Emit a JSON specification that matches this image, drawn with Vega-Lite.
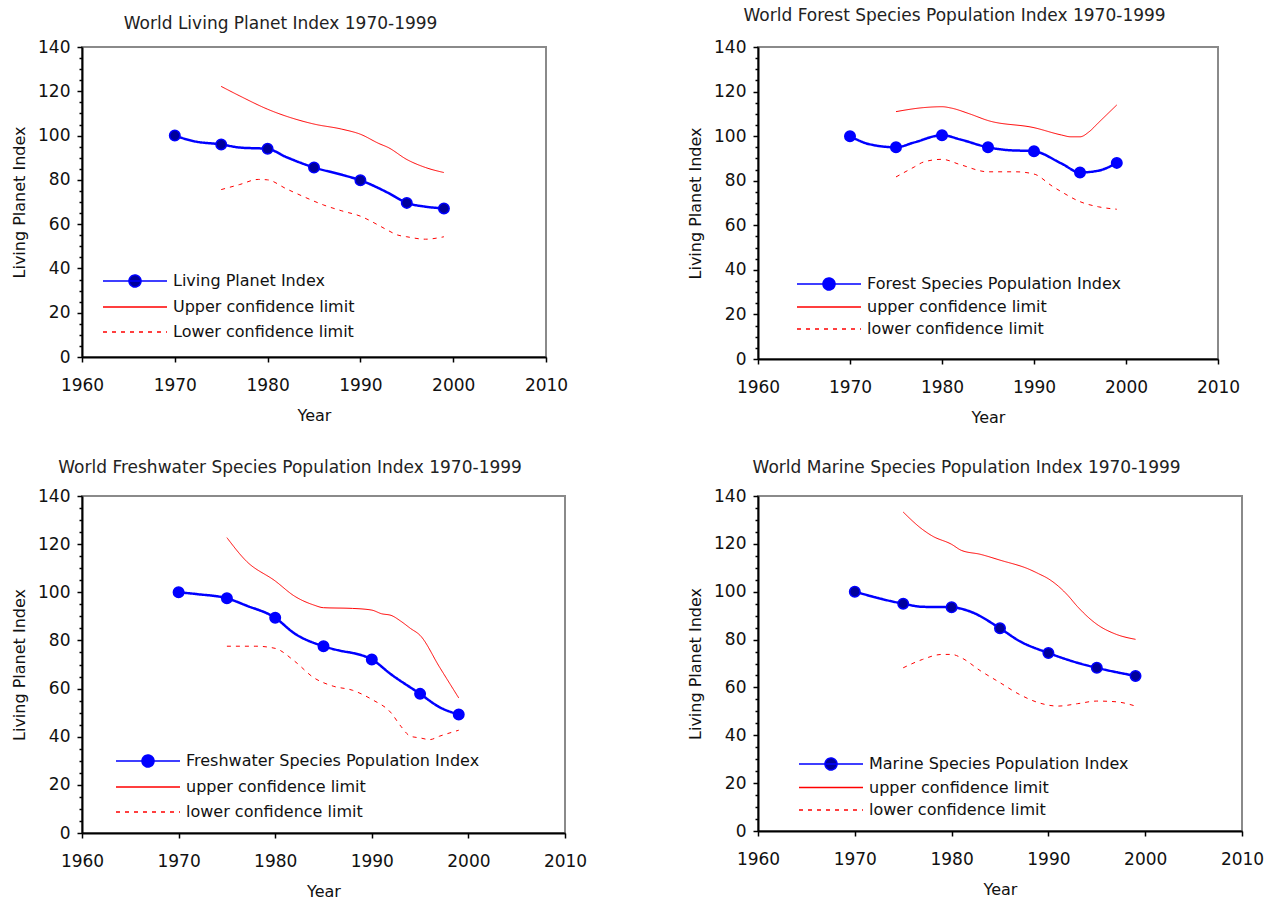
{
"$schema": "https://vega.github.io/schema/vega-lite/v6.json",
"background": "white",
"padding": {"left": 10, "top": 6, "right": 5, "bottom": 2},
"data": {"values": [
{"panel":"living","series":"Living Planet Index","year":1970,"value":100,"marker":true},
{"panel":"living","series":"Living Planet Index","year":1972,"value":97.5},
{"panel":"living","series":"Living Planet Index","year":1975,"value":96,"marker":true},
{"panel":"living","series":"Living Planet Index","year":1977,"value":94.6},
{"panel":"living","series":"Living Planet Index","year":1980,"value":94,"marker":true},
{"panel":"living","series":"Living Planet Index","year":1982,"value":90.3},
{"panel":"living","series":"Living Planet Index","year":1985,"value":85.6,"marker":true},
{"panel":"living","series":"Living Planet Index","year":1988,"value":82.3},
{"panel":"living","series":"Living Planet Index","year":1990,"value":79.8,"marker":true},
{"panel":"living","series":"Living Planet Index","year":1993,"value":74.1},
{"panel":"living","series":"Living Planet Index","year":1995,"value":69.6,"marker":true},
{"panel":"living","series":"Living Planet Index","year":1997,"value":67.9},
{"panel":"living","series":"Living Planet Index","year":1999,"value":67.1,"marker":true},
{"panel":"living","series":"Upper confidence limit","year":1975,"value":122.2},
{"panel":"living","series":"Upper confidence limit","year":1977,"value":117.9},
{"panel":"living","series":"Upper confidence limit","year":1980,"value":111.9},
{"panel":"living","series":"Upper confidence limit","year":1985,"value":105.2},
{"panel":"living","series":"Upper confidence limit","year":1988,"value":102.9},
{"panel":"living","series":"Upper confidence limit","year":1990,"value":100.6},
{"panel":"living","series":"Upper confidence limit","year":1992,"value":96.4},
{"panel":"living","series":"Upper confidence limit","year":1993,"value":94.6},
{"panel":"living","series":"Upper confidence limit","year":1995,"value":89.2},
{"panel":"living","series":"Upper confidence limit","year":1997,"value":85.6},
{"panel":"living","series":"Upper confidence limit","year":1999,"value":83.3},
{"panel":"living","series":"Lower confidence limit","year":1975,"value":75.6},
{"panel":"living","series":"Lower confidence limit","year":1977,"value":77.9},
{"panel":"living","series":"Lower confidence limit","year":1979,"value":80.2},
{"panel":"living","series":"Lower confidence limit","year":1980,"value":80},
{"panel":"living","series":"Lower confidence limit","year":1982,"value":76},
{"panel":"living","series":"Lower confidence limit","year":1984,"value":72.2},
{"panel":"living","series":"Lower confidence limit","year":1986,"value":68.7},
{"panel":"living","series":"Lower confidence limit","year":1988,"value":66},
{"panel":"living","series":"Lower confidence limit","year":1990,"value":63.6},
{"panel":"living","series":"Lower confidence limit","year":1992,"value":59.4},
{"panel":"living","series":"Lower confidence limit","year":1993,"value":57.1},
{"panel":"living","series":"Lower confidence limit","year":1994,"value":55.1},
{"panel":"living","series":"Lower confidence limit","year":1995,"value":54.3},
{"panel":"living","series":"Lower confidence limit","year":1997,"value":53.2},
{"panel":"living","series":"Lower confidence limit","year":1999,"value":54.3},
{"panel":"forest","series":"Forest Species Population Index","year":1970,"value":100,"marker":true},
{"panel":"forest","series":"Forest Species Population Index","year":1972,"value":96.5},
{"panel":"forest","series":"Forest Species Population Index","year":1975,"value":95,"marker":true},
{"panel":"forest","series":"Forest Species Population Index","year":1977,"value":97.2},
{"panel":"forest","series":"Forest Species Population Index","year":1980,"value":100.4,"marker":true},
{"panel":"forest","series":"Forest Species Population Index","year":1982,"value":98.5},
{"panel":"forest","series":"Forest Species Population Index","year":1985,"value":95,"marker":true},
{"panel":"forest","series":"Forest Species Population Index","year":1987,"value":93.8},
{"panel":"forest","series":"Forest Species Population Index","year":1990,"value":93.2,"marker":true},
{"panel":"forest","series":"Forest Species Population Index","year":1993,"value":87.7},
{"panel":"forest","series":"Forest Species Population Index","year":1995,"value":83.7,"marker":true},
{"panel":"forest","series":"Forest Species Population Index","year":1997,"value":84.5},
{"panel":"forest","series":"Forest Species Population Index","year":1999,"value":88,"marker":true},
{"panel":"forest","series":"upper confidence limit","year":1975,"value":111},
{"panel":"forest","series":"upper confidence limit","year":1978,"value":112.8},
{"panel":"forest","series":"upper confidence limit","year":1980,"value":113.2},
{"panel":"forest","series":"upper confidence limit","year":1981,"value":112.6},
{"panel":"forest","series":"upper confidence limit","year":1983,"value":110},
{"panel":"forest","series":"upper confidence limit","year":1985,"value":107},
{"panel":"forest","series":"upper confidence limit","year":1990,"value":103.8},
{"panel":"forest","series":"upper confidence limit","year":1993,"value":100.5},
{"panel":"forest","series":"upper confidence limit","year":1994,"value":99.7},
{"panel":"forest","series":"upper confidence limit","year":1995,"value":99.7},
{"panel":"forest","series":"upper confidence limit","year":1996,"value":102},
{"panel":"forest","series":"upper confidence limit","year":1997,"value":106},
{"panel":"forest","series":"upper confidence limit","year":1999,"value":114},
{"panel":"forest","series":"lower confidence limit","year":1975,"value":81.7},
{"panel":"forest","series":"lower confidence limit","year":1977,"value":86.2},
{"panel":"forest","series":"lower confidence limit","year":1978,"value":88.4},
{"panel":"forest","series":"lower confidence limit","year":1980,"value":89.6},
{"panel":"forest","series":"lower confidence limit","year":1982,"value":87.2},
{"panel":"forest","series":"lower confidence limit","year":1985,"value":84},
{"panel":"forest","series":"lower confidence limit","year":1988,"value":84},
{"panel":"forest","series":"lower confidence limit","year":1990,"value":83},
{"panel":"forest","series":"lower confidence limit","year":1992,"value":77.5},
{"panel":"forest","series":"lower confidence limit","year":1993,"value":75},
{"panel":"forest","series":"lower confidence limit","year":1995,"value":70.6},
{"panel":"forest","series":"lower confidence limit","year":1997,"value":68.3},
{"panel":"forest","series":"lower confidence limit","year":1999,"value":67.2},
{"panel":"fresh","series":"Freshwater Species Population Index","year":1970,"value":100,"marker":true},
{"panel":"fresh","series":"Freshwater Species Population Index","year":1972,"value":99.2},
{"panel":"fresh","series":"Freshwater Species Population Index","year":1975,"value":97.5,"marker":true},
{"panel":"fresh","series":"Freshwater Species Population Index","year":1977,"value":94.5},
{"panel":"fresh","series":"Freshwater Species Population Index","year":1980,"value":89.4,"marker":true},
{"panel":"fresh","series":"Freshwater Species Population Index","year":1982,"value":82.9},
{"panel":"fresh","series":"Freshwater Species Population Index","year":1985,"value":77.6,"marker":true},
{"panel":"fresh","series":"Freshwater Species Population Index","year":1987,"value":75.5},
{"panel":"fresh","series":"Freshwater Species Population Index","year":1988,"value":74.8},
{"panel":"fresh","series":"Freshwater Species Population Index","year":1990,"value":72.1,"marker":true},
{"panel":"fresh","series":"Freshwater Species Population Index","year":1992,"value":65.9},
{"panel":"fresh","series":"Freshwater Species Population Index","year":1995,"value":57.8,"marker":true},
{"panel":"fresh","series":"Freshwater Species Population Index","year":1997,"value":52.3},
{"panel":"fresh","series":"Freshwater Species Population Index","year":1999,"value":49.2,"marker":true},
{"panel":"fresh","series":"upper confidence limit","year":1975,"value":122.7},
{"panel":"fresh","series":"upper confidence limit","year":1977,"value":113},
{"panel":"fresh","series":"upper confidence limit","year":1980,"value":104.7},
{"panel":"fresh","series":"upper confidence limit","year":1982,"value":98.4},
{"panel":"fresh","series":"upper confidence limit","year":1984,"value":94.7},
{"panel":"fresh","series":"upper confidence limit","year":1985,"value":93.6},
{"panel":"fresh","series":"upper confidence limit","year":1988,"value":93.3},
{"panel":"fresh","series":"upper confidence limit","year":1990,"value":92.6},
{"panel":"fresh","series":"upper confidence limit","year":1991,"value":91.1},
{"panel":"fresh","series":"upper confidence limit","year":1992,"value":90.4},
{"panel":"fresh","series":"upper confidence limit","year":1993,"value":88},
{"panel":"fresh","series":"upper confidence limit","year":1994,"value":85},
{"panel":"fresh","series":"upper confidence limit","year":1995,"value":82.1},
{"panel":"fresh","series":"upper confidence limit","year":1997,"value":69},
{"panel":"fresh","series":"upper confidence limit","year":1999,"value":56.1},
{"panel":"fresh","series":"lower confidence limit","year":1975,"value":77.6},
{"panel":"fresh","series":"lower confidence limit","year":1978,"value":77.6},
{"panel":"fresh","series":"lower confidence limit","year":1980,"value":76.7},
{"panel":"fresh","series":"lower confidence limit","year":1982,"value":71.4},
{"panel":"fresh","series":"lower confidence limit","year":1984,"value":64.5},
{"panel":"fresh","series":"lower confidence limit","year":1986,"value":61},
{"panel":"fresh","series":"lower confidence limit","year":1988,"value":59.3},
{"panel":"fresh","series":"lower confidence limit","year":1990,"value":55.5},
{"panel":"fresh","series":"lower confidence limit","year":1992,"value":49.9},
{"panel":"fresh","series":"lower confidence limit","year":1993,"value":44.4},
{"panel":"fresh","series":"lower confidence limit","year":1994,"value":40.2},
{"panel":"fresh","series":"lower confidence limit","year":1995,"value":39.5},
{"panel":"fresh","series":"lower confidence limit","year":1996,"value":38.8},
{"panel":"fresh","series":"lower confidence limit","year":1997,"value":40.2},
{"panel":"fresh","series":"lower confidence limit","year":1999,"value":42.7},
{"panel":"marine","series":"Marine Species Population Index","year":1970,"value":100,"marker":true},
{"panel":"marine","series":"Marine Species Population Index","year":1975,"value":95,"marker":true},
{"panel":"marine","series":"Marine Species Population Index","year":1977,"value":93.7},
{"panel":"marine","series":"Marine Species Population Index","year":1980,"value":93.5,"marker":true},
{"panel":"marine","series":"Marine Species Population Index","year":1982,"value":91.6},
{"panel":"marine","series":"Marine Species Population Index","year":1985,"value":84.7,"marker":true},
{"panel":"marine","series":"Marine Species Population Index","year":1987,"value":79.4},
{"panel":"marine","series":"Marine Species Population Index","year":1990,"value":74.4,"marker":true},
{"panel":"marine","series":"Marine Species Population Index","year":1993,"value":70.3},
{"panel":"marine","series":"Marine Species Population Index","year":1995,"value":68.2,"marker":true},
{"panel":"marine","series":"Marine Species Population Index","year":1999,"value":64.8,"marker":true},
{"panel":"marine","series":"upper confidence limit","year":1975,"value":133.3},
{"panel":"marine","series":"upper confidence limit","year":1977,"value":126},
{"panel":"marine","series":"upper confidence limit","year":1978,"value":123.3},
{"panel":"marine","series":"upper confidence limit","year":1980,"value":119.8},
{"panel":"marine","series":"upper confidence limit","year":1981,"value":117.3},
{"panel":"marine","series":"upper confidence limit","year":1983,"value":115.6},
{"panel":"marine","series":"upper confidence limit","year":1985,"value":113.2},
{"panel":"marine","series":"upper confidence limit","year":1988,"value":109.4},
{"panel":"marine","series":"upper confidence limit","year":1989,"value":107.5},
{"panel":"marine","series":"upper confidence limit","year":1990,"value":105.4},
{"panel":"marine","series":"upper confidence limit","year":1991,"value":102.4},
{"panel":"marine","series":"upper confidence limit","year":1992,"value":98.5},
{"panel":"marine","series":"upper confidence limit","year":1993,"value":93.8},
{"panel":"marine","series":"upper confidence limit","year":1995,"value":86.4},
{"panel":"marine","series":"upper confidence limit","year":1997,"value":82.2},
{"panel":"marine","series":"upper confidence limit","year":1999,"value":80.1},
{"panel":"marine","series":"lower confidence limit","year":1975,"value":68.2},
{"panel":"marine","series":"lower confidence limit","year":1977,"value":71.7},
{"panel":"marine","series":"lower confidence limit","year":1979,"value":73.8},
{"panel":"marine","series":"lower confidence limit","year":1980,"value":73.8},
{"panel":"marine","series":"lower confidence limit","year":1981,"value":72.4},
{"panel":"marine","series":"lower confidence limit","year":1983,"value":66.9},
{"panel":"marine","series":"lower confidence limit","year":1985,"value":62},
{"panel":"marine","series":"lower confidence limit","year":1987,"value":57.1},
{"panel":"marine","series":"lower confidence limit","year":1989,"value":53.6},
{"panel":"marine","series":"lower confidence limit","year":1991,"value":52.2},
{"panel":"marine","series":"lower confidence limit","year":1993,"value":53.2},
{"panel":"marine","series":"lower confidence limit","year":1995,"value":54.3},
{"panel":"marine","series":"lower confidence limit","year":1997,"value":54},
{"panel":"marine","series":"lower confidence limit","year":1999,"value":52.2}
]},
"spacing": 98,
"resolve": {"scale": {"x": "independent", "y": "independent", "color": "independent", "strokeDash": "independent", "shape": "independent"}, "legend": {"color": "independent", "strokeDash": "independent", "shape": "independent"}},
"hconcat": [
{"vconcat": [
{"title": {"text": "World Living Planet Index 1970-1999", "offset": 5},
 "width": 464, "height": 310,
 "transform": [{"filter": "datum.panel == 'living'"}],
 "resolve": {"axis": {"y": "independent"}},
 "layer": [
  {"mark": {"type": "line", "interpolate": "monotone"},
   "encoding": {
    "x": {"field": "year", "type": "quantitative", "scale": {"domain": [1960, 2010], "nice": false}, "axis": {"title": "Year", "values": [1960, 1970, 1980, 1990, 2000, 2010], "format": "d"}},
    "y": {"field": "value", "type": "quantitative", "scale": {"domain": [0, 140], "nice": false}, "axis": {"title": "Living Planet Index", "values": [0, 20, 40, 60, 80, 100, 120, 140]}},
    "color": {"field": "series", "type": "nominal", "title": null, "scale": {"domain": ["Living Planet Index", "Upper confidence limit", "Lower confidence limit"], "range": ["#0000ff", "#ff0000", "#ff0000"]}, "legend": {"title": null, "orient": "none", "legendX": 44, "legendY": 225, "rowPadding": 8}},
    "strokeDash": {"field": "series", "type": "nominal", "title": null, "scale": {"domain": ["Living Planet Index", "Upper confidence limit", "Lower confidence limit"], "range": [[1, 0], [1, 0], [4, 5]]}, "legend": {"title": null, "orient": "none", "legendX": 44, "legendY": 225, "rowPadding": 8}},
    "strokeWidth": {"condition": {"test": "datum.series == 'Living Planet Index'", "value": 2.5}, "value": 1}
   }},
  {"transform": [{"filter": "datum.marker"}],
   "mark": {"type": "point", "filled": true, "size": 110, "fill": "#00009c", "stroke": "#0000ff", "strokeWidth": 1.5, "opacity": 1},
   "encoding": {
    "x": {"field": "year", "type": "quantitative", "scale": {"domain": [1960, 2010], "nice": false}, "axis": {"title": "Year", "values": [1960, 1970, 1980, 1990, 2000, 2010], "format": "d"}},
    "y": {"field": "value", "type": "quantitative", "scale": {"domain": [0, 140], "nice": false}, "axis": null}
   }},
  {"transform": [{"filter": "datum.marker"}],
   "mark": {"type": "point", "filled": true, "size": 0, "opacity": 1, "fill": "#00009c"},
   "encoding": {
    "x": {"field": "year", "type": "quantitative", "scale": {"domain": [1960, 2010], "nice": false}, "axis": {"title": "Year", "values": [1960, 1970, 1980, 1990, 2000, 2010], "format": "d"}},
    "y": {"field": "value", "type": "quantitative", "scale": {"domain": [0, 140], "nice": false}, "axis": {"orient": "left", "title": null, "labels": false, "domain": false, "tickSize": 3, "values": [5,10,15,25,30,35,45,50,55,65,70,75,85,90,95,105,110,115,125,130,135]}},
    "shape": {"field": "series", "type": "nominal", "title": null, "scale": {"domain": ["Living Planet Index", "Upper confidence limit", "Lower confidence limit"], "range": ["M-4,0H4M-0.75,0A0.75,0.75,0,1,1,0.75,0A0.75,0.75,0,1,1,-0.75,0Z", "M-4,0H4", "M-4,0H4"]}, "legend": {"title": null, "orient": "none", "legendX": 44, "legendY": 225, "rowPadding": 8}}
   }}
 ]},
{"title": {"text": "World Freshwater Species Population Index 1970-1999", "offset": 10},
 "width": 483, "height": 337,
 "transform": [{"filter": "datum.panel == 'fresh'"}],
 "resolve": {"axis": {"y": "independent"}},
 "layer": [
  {"mark": {"type": "line", "interpolate": "monotone"},
   "encoding": {
    "x": {"field": "year", "type": "quantitative", "scale": {"domain": [1960, 2010], "nice": false}, "axis": {"title": "Year", "values": [1960, 1970, 1980, 1990, 2000, 2010], "format": "d"}},
    "y": {"field": "value", "type": "quantitative", "scale": {"domain": [0, 140], "nice": false}, "axis": {"title": "Living Planet Index", "values": [0, 20, 40, 60, 80, 100, 120, 140]}},
    "color": {"field": "series", "type": "nominal", "title": null, "scale": {"domain": ["Freshwater Species Population Index", "upper confidence limit", "lower confidence limit"], "range": ["#0000ff", "#ff0000", "#ff0000"]}, "legend": {"title": null, "orient": "none", "legendX": 57, "legendY": 256, "rowPadding": 8}},
    "strokeDash": {"field": "series", "type": "nominal", "title": null, "scale": {"domain": ["Freshwater Species Population Index", "upper confidence limit", "lower confidence limit"], "range": [[1, 0], [1, 0], [4, 5]]}, "legend": {"title": null, "orient": "none", "legendX": 57, "legendY": 256, "rowPadding": 8}},
    "strokeWidth": {"condition": {"test": "datum.series == 'Freshwater Species Population Index'", "value": 2.5}, "value": 1}
   }},
  {"transform": [{"filter": "datum.marker"}],
   "mark": {"type": "point", "filled": true, "size": 110, "fill": "#0000ff", "stroke": "#0000ff", "strokeWidth": 1.5, "opacity": 1},
   "encoding": {
    "x": {"field": "year", "type": "quantitative", "scale": {"domain": [1960, 2010], "nice": false}, "axis": {"title": "Year", "values": [1960, 1970, 1980, 1990, 2000, 2010], "format": "d"}},
    "y": {"field": "value", "type": "quantitative", "scale": {"domain": [0, 140], "nice": false}, "axis": null}
   }},
  {"transform": [{"filter": "datum.marker"}],
   "mark": {"type": "point", "filled": true, "size": 0, "opacity": 1, "fill": "#0000ff"},
   "encoding": {
    "x": {"field": "year", "type": "quantitative", "scale": {"domain": [1960, 2010], "nice": false}, "axis": {"title": "Year", "values": [1960, 1970, 1980, 1990, 2000, 2010], "format": "d"}},
    "y": {"field": "value", "type": "quantitative", "scale": {"domain": [0, 140], "nice": false}, "axis": {"orient": "left", "title": null, "labels": false, "domain": false, "tickSize": 3, "values": [5,10,15,25,30,35,45,50,55,65,70,75,85,90,95,105,110,115,125,130,135]}},
    "shape": {"field": "series", "type": "nominal", "title": null, "scale": {"domain": ["Freshwater Species Population Index", "upper confidence limit", "lower confidence limit"], "range": ["M-4,0H4M-0.75,0A0.75,0.75,0,1,1,0.75,0A0.75,0.75,0,1,1,-0.75,0Z", "M-4,0H4", "M-4,0H4"]}, "legend": {"title": null, "orient": "none", "legendX": 57, "legendY": 256, "rowPadding": 8}}
   }}
 ]}
], "spacing": 34,
 "resolve": {"scale": {"x": "independent", "y": "independent", "color": "independent", "strokeDash": "independent", "shape": "independent"}, "legend": {"color": "independent", "strokeDash": "independent", "shape": "independent"}}},
{"vconcat": [
{"title": {"text": "World Forest Species Population Index 1970-1999", "offset": 13},
 "width": 460, "height": 312,
 "transform": [{"filter": "datum.panel == 'forest'"}],
 "resolve": {"axis": {"y": "independent"}},
 "layer": [
  {"mark": {"type": "line", "interpolate": "monotone"},
   "encoding": {
    "x": {"field": "year", "type": "quantitative", "scale": {"domain": [1960, 2010], "nice": false}, "axis": {"title": "Year", "values": [1960, 1970, 1980, 1990, 2000, 2010], "format": "d"}},
    "y": {"field": "value", "type": "quantitative", "scale": {"domain": [0, 140], "nice": false}, "axis": {"title": "Living Planet Index", "values": [0, 20, 40, 60, 80, 100, 120, 140]}},
    "color": {"field": "series", "type": "nominal", "title": null, "scale": {"domain": ["Forest Species Population Index", "upper confidence limit", "lower confidence limit"], "range": ["#0000ff", "#ff0000", "#ff0000"]}, "legend": {"title": null, "orient": "none", "legendX": 62, "legendY": 228, "rowPadding": 5}},
    "strokeDash": {"field": "series", "type": "nominal", "title": null, "scale": {"domain": ["Forest Species Population Index", "upper confidence limit", "lower confidence limit"], "range": [[1, 0], [1, 0], [4, 5]]}, "legend": {"title": null, "orient": "none", "legendX": 62, "legendY": 228, "rowPadding": 5}},
    "strokeWidth": {"condition": {"test": "datum.series == 'Forest Species Population Index'", "value": 2.5}, "value": 1}
   }},
  {"transform": [{"filter": "datum.marker"}],
   "mark": {"type": "point", "filled": true, "size": 110, "fill": "#0000ff", "stroke": "#0000ff", "strokeWidth": 1.5, "opacity": 1},
   "encoding": {
    "x": {"field": "year", "type": "quantitative", "scale": {"domain": [1960, 2010], "nice": false}, "axis": {"title": "Year", "values": [1960, 1970, 1980, 1990, 2000, 2010], "format": "d"}},
    "y": {"field": "value", "type": "quantitative", "scale": {"domain": [0, 140], "nice": false}, "axis": null}
   }},
  {"transform": [{"filter": "datum.marker"}],
   "mark": {"type": "point", "filled": true, "size": 0, "opacity": 1, "fill": "#0000ff"},
   "encoding": {
    "x": {"field": "year", "type": "quantitative", "scale": {"domain": [1960, 2010], "nice": false}, "axis": {"title": "Year", "values": [1960, 1970, 1980, 1990, 2000, 2010], "format": "d"}},
    "y": {"field": "value", "type": "quantitative", "scale": {"domain": [0, 140], "nice": false}, "axis": {"orient": "left", "title": null, "labels": false, "domain": false, "tickSize": 3, "values": [5,10,15,25,30,35,45,50,55,65,70,75,85,90,95,105,110,115,125,130,135]}},
    "shape": {"field": "series", "type": "nominal", "title": null, "scale": {"domain": ["Forest Species Population Index", "upper confidence limit", "lower confidence limit"], "range": ["M-4,0H4M-0.75,0A0.75,0.75,0,1,1,0.75,0A0.75,0.75,0,1,1,-0.75,0Z", "M-4,0H4", "M-4,0H4"]}, "legend": {"title": null, "orient": "none", "legendX": 62, "legendY": 228, "rowPadding": 5}}
   }}
 ]},
{"title": {"text": "World Marine Species Population Index 1970-1999", "offset": 10},
 "width": 484, "height": 335,
 "transform": [{"filter": "datum.panel == 'marine'"}],
 "resolve": {"axis": {"y": "independent"}},
 "layer": [
  {"mark": {"type": "line", "interpolate": "monotone"},
   "encoding": {
    "x": {"field": "year", "type": "quantitative", "scale": {"domain": [1960, 2010], "nice": false}, "axis": {"title": "Year", "values": [1960, 1970, 1980, 1990, 2000, 2010], "format": "d"}},
    "y": {"field": "value", "type": "quantitative", "scale": {"domain": [0, 140], "nice": false}, "axis": {"title": "Living Planet Index", "values": [0, 20, 40, 60, 80, 100, 120, 140]}},
    "color": {"field": "series", "type": "nominal", "title": null, "scale": {"domain": ["Marine Species Population Index", "upper confidence limit", "lower confidence limit"], "range": ["#0000ff", "#ff0000", "#ff0000"]}, "legend": {"title": null, "orient": "none", "legendX": 64, "legendY": 259, "rowPadding": 5.5}},
    "strokeDash": {"field": "series", "type": "nominal", "title": null, "scale": {"domain": ["Marine Species Population Index", "upper confidence limit", "lower confidence limit"], "range": [[1, 0], [1, 0], [4, 5]]}, "legend": {"title": null, "orient": "none", "legendX": 64, "legendY": 259, "rowPadding": 5.5}},
    "strokeWidth": {"condition": {"test": "datum.series == 'Marine Species Population Index'", "value": 2.5}, "value": 1}
   }},
  {"transform": [{"filter": "datum.marker"}],
   "mark": {"type": "point", "filled": true, "size": 110, "fill": "#00009c", "stroke": "#0000ff", "strokeWidth": 1.5, "opacity": 1},
   "encoding": {
    "x": {"field": "year", "type": "quantitative", "scale": {"domain": [1960, 2010], "nice": false}, "axis": {"title": "Year", "values": [1960, 1970, 1980, 1990, 2000, 2010], "format": "d"}},
    "y": {"field": "value", "type": "quantitative", "scale": {"domain": [0, 140], "nice": false}, "axis": null}
   }},
  {"transform": [{"filter": "datum.marker"}],
   "mark": {"type": "point", "filled": true, "size": 0, "opacity": 1, "fill": "#00009c"},
   "encoding": {
    "x": {"field": "year", "type": "quantitative", "scale": {"domain": [1960, 2010], "nice": false}, "axis": {"title": "Year", "values": [1960, 1970, 1980, 1990, 2000, 2010], "format": "d"}},
    "y": {"field": "value", "type": "quantitative", "scale": {"domain": [0, 140], "nice": false}, "axis": {"orient": "left", "title": null, "labels": false, "domain": false, "tickSize": 3, "values": [5,10,15,25,30,35,45,50,55,65,70,75,85,90,95,105,110,115,125,130,135]}},
    "shape": {"field": "series", "type": "nominal", "title": null, "scale": {"domain": ["Marine Species Population Index", "upper confidence limit", "lower confidence limit"], "range": ["M-4,0H4M-0.75,0A0.75,0.75,0,1,1,0.75,0A0.75,0.75,0,1,1,-0.75,0Z", "M-4,0H4", "M-4,0H4"]}, "legend": {"title": null, "orient": "none", "legendX": 64, "legendY": 259, "rowPadding": 5.5}}
   }}
 ]}
], "spacing": 32,
 "resolve": {"scale": {"x": "independent", "y": "independent", "color": "independent", "strokeDash": "independent", "shape": "independent"}, "legend": {"color": "independent", "strokeDash": "independent", "shape": "independent"}}}
],
"config": {
 "font": "DejaVu Sans",
 "view": {"stroke": "#8a8a8a", "strokeWidth": 2},
 "axis": {"grid": false, "domainColor": "#000000", "domainWidth": 2, "tickColor": "#000000", "tickWidth": 1.5, "tickSize": 5, "labelFont": "DejaVu Sans", "labelFontSize": 17, "labelColor": "#111111", "titleFont": "DejaVu Sans", "titleFontSize": 16, "titleFontWeight": "normal", "titleColor": "#111111"},
 "axisX": {"labelPadding": 15.5, "titlePadding": 13.5, "labelFlush": false},
 "axisY": {"labelPadding": 7, "titlePadding": 10},
 "title": {"font": "DejaVu Sans", "fontSize": 17, "fontWeight": "normal", "color": "#222222", "frame": "bounds", "anchor": "middle", "dx": -9},
 "legend": {"labelFont": "DejaVu Sans", "labelFontSize": 16, "labelColor": "#111111", "labelLimit": 500, "symbolSize": 256, "symbolStrokeWidth": 1.5, "symbolOpacity": 1, "labelOffset": 29, "padding": 0, "symbolFillColor": "#0000ff"}
}
}
